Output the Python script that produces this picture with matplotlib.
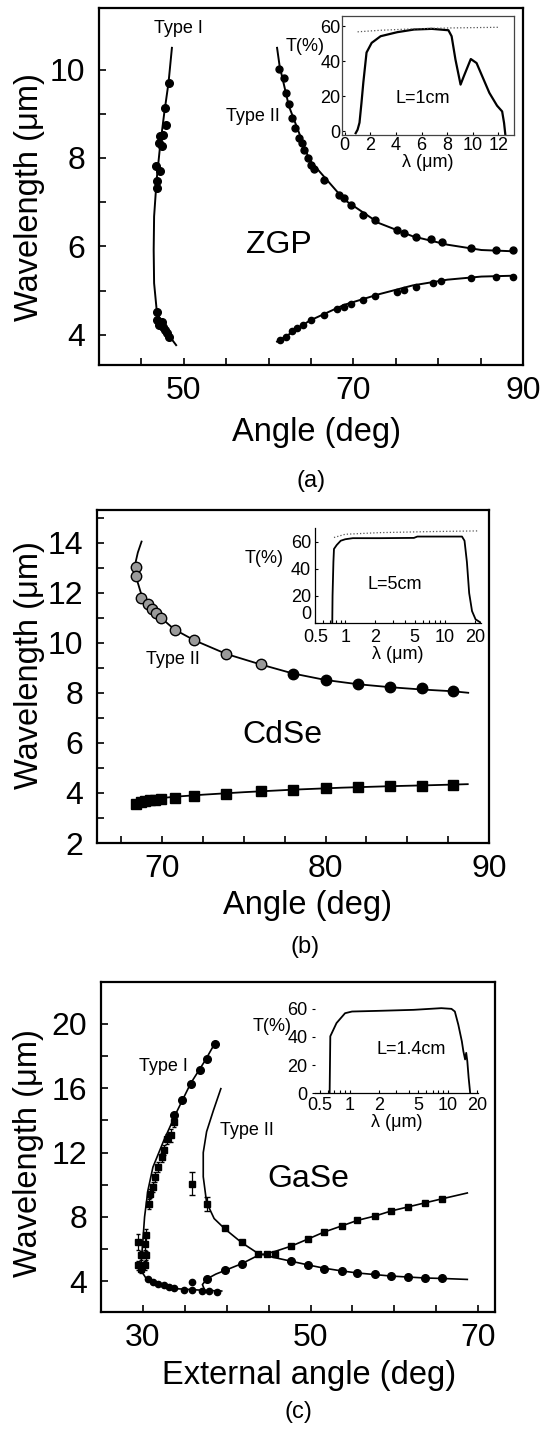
import matplotlib.pyplot as plt
from matplotlib.ticker import FixedLocator, NullFormatter

plt.rcParams['font.family'] = ['Liberation Sans', 'DejaVu Sans']

# ---------------- (a) ZGP ----------------
zgp_t1_curve_x = [48.6, 48.2, 47.7, 47.2, 46.8, 46.5, 46.45, 46.5, 46.8, 47.4, 48.2, 49.1]
zgp_t1_curve_y = [10.49, 9.70, 9.02, 8.26, 7.51, 6.68, 5.92, 5.17, 4.57, 4.23, 4.0, 3.77]
zgp_t1_x = [48.2, 47.8, 47.9, 47.2, 47.5, 47.4, 47.1, 46.7, 47.2, 46.8, 46.8,
            46.8, 46.9, 47.1, 47.4, 47.6, 47.8, 48.0, 48.2]
zgp_t1_y = [9.70, 9.13, 8.75, 8.49, 8.53, 8.26, 8.34, 7.81, 7.70, 7.47, 7.32,
            4.53, 4.34, 4.23, 4.30, 4.19, 4.11, 4.04, 3.96]

zgp_up_curve_x = [61.0, 61.3, 62.4, 64.8, 68.9, 73.0, 77.0, 81.1, 85.1, 89.0]
zgp_up_curve_y = [10.49, 10.08, 9.17, 7.96, 7.06, 6.53, 6.23, 6.04, 5.92, 5.89]
zgp_up_x = [61.2, 61.8, 62.1, 62.4, 62.8, 63.1, 63.6, 63.9, 64.2, 64.6, 65.0, 65.4, 66.5,
            68.3, 68.9, 69.7, 71.1, 72.5, 75.2, 76.0, 77.4, 79.2, 80.5, 83.9, 86.8, 88.8]
zgp_up_y = [10.02, 9.81, 9.47, 9.21, 8.91, 8.68, 8.45, 8.34, 8.19, 8.0, 7.85, 7.75, 7.51,
            7.17, 7.09, 6.94, 6.72, 6.60, 6.38, 6.30, 6.21, 6.17, 6.09, 5.96, 5.92, 5.92]

zgp_lo_curve_x = [61.0, 62.8, 64.8, 68.9, 73.0, 77.0, 81.1, 85.1, 89.0]
zgp_lo_curve_y = [3.85, 4.06, 4.32, 4.68, 4.92, 5.12, 5.25, 5.32, 5.34]
zgp_lo_x = [61.4, 62.0, 62.8, 63.4, 64.0, 65.0, 66.5, 68.1, 68.9, 69.7, 71.1, 72.5,
            75.2, 76.0, 77.4, 79.4, 80.3, 83.9, 86.8, 88.8]
zgp_lo_y = [3.89, 3.96, 4.08, 4.15, 4.23, 4.34, 4.45, 4.58, 4.64, 4.70, 4.79, 4.87,
            4.98, 5.02, 5.09, 5.17, 5.21, 5.28, 5.32, 5.31]

# inset (a) transmission
zgp_tr_x = [0.85, 1.0, 1.15, 1.3, 1.45, 1.7, 2.1, 2.8, 4.1, 5.4, 6.8, 8.1, 8.35, 8.65,
            9.05, 9.3, 9.85, 10.3, 11.3, 11.9, 12.3, 12.45, 12.55]
zgp_tr_y = [-1, 1, 5, 16, 28, 45, 50.5, 54.3, 56.6, 58.1, 58.5, 57.7, 54.3, 41,
            26.7, 31.4, 41.3, 39, 22, 14.7, 11.4, 4.8, -1.9]
zgp_ref_x = [1.0, 2.8, 5.4, 8.1, 12.1]
zgp_ref_y = [56.8, 57.7, 58.5, 59.0, 59.4]

# ---------------- (b) CdSe ----------------
cdse_up_curve_x = [68.73, 68.5, 68.36, 68.35, 68.45, 68.73, 69.15, 70.0, 70.74, 71.95,
                   73.92, 76.03, 78.0, 80.0, 82.0, 84.0, 85.9, 87.8, 88.73]
cdse_up_curve_y = [14.04, 13.6, 13.2, 12.9, 12.5, 11.9, 11.5, 10.95, 10.53, 10.1,
                   9.55, 9.13, 8.77, 8.51, 8.34, 8.22, 8.13, 8.06, 8.0]
cdse_gray_x = [68.4, 68.4, 68.7, 69.1, 69.35, 69.6, 69.9, 70.76, 71.95, 73.92, 76.03]
cdse_gray_y = [13.02, 12.68, 11.8, 11.53, 11.35, 11.2, 10.98, 10.5, 10.1, 9.55, 9.13]
cdse_black_x = [78.0, 80.0, 82.0, 83.97, 85.87, 87.78]
cdse_black_y = [8.77, 8.51, 8.36, 8.25, 8.19, 8.09]
cdse_lo_curve_x = [68.3, 69.0, 70.0, 71.0, 72.5, 75.0, 78.0, 81.0, 84.0, 86.5, 88.7]
cdse_lo_curve_y = [3.68, 3.74, 3.80, 3.86, 3.93, 4.03, 4.13, 4.21, 4.27, 4.31, 4.35]
cdse_sq_x = [68.37, 68.7, 68.94, 69.26, 69.58, 69.9, 70.78, 71.95, 73.92, 76.03,
             78.0, 80.0, 82.0, 83.97, 85.87, 87.78]
cdse_sq_y = [3.57, 3.62, 3.68, 3.71, 3.73, 3.77, 3.81, 3.89, 3.97, 4.07,
             4.13, 4.21, 4.24, 4.28, 4.28, 4.33]

cdse_tr_x = [0.74, 0.745, 0.76, 0.77, 0.82, 0.9, 1.0, 1.19, 2.2, 4.9, 5.3, 10, 14.9,
             15.8, 16.7, 17.6, 18.8, 20.4, 22.9]
cdse_tr_y = [-0.5, 20, 45, 54.6, 57.5, 60.7, 61.8, 62.6, 62.6, 62.8, 63.8, 63.8, 63.8,
             60.7, 44.9, 21.8, 8.5, 2.4, 0]
cdse_ref_x = [0.77, 1.0, 2.2, 7.3, 22]
cdse_ref_y = [63.1, 65.5, 66.7, 67.5, 68]

# ---------------- (c) GaSe ----------------
gase_t1_curve_x = [38.6, 37.4, 35.7, 34.1, 32.5, 31.2, 30.6, 30.2, 30.0, 29.8, 29.9,
                   30.4, 32.0, 34.1, 37.4, 39.4]
gase_t1_curve_y = [18.8, 17.7, 16.3, 14.6, 12.76, 11.1, 9.65, 8.0, 6.55, 5.2, 4.58,
                   4.17, 3.75, 3.54, 3.44, 3.4]
gase_t1_circ_x = [38.6, 37.6, 36.8, 35.7, 34.7, 33.7]
gase_t1_circ_y = [18.76, 17.83, 17.15, 16.24, 15.24, 14.31]
gase_t1_sq_x = [33.7, 33.3, 32.9, 32.5, 32.3, 31.8, 31.4, 31.2, 30.8, 30.7,
                30.4, 29.4, 30.2, 29.8, 30.4, 29.4, 30.2, 29.8]
gase_t1_sq_y = [13.9, 13.07, 12.86, 12.14, 11.7, 11.1, 10.48, 9.86, 9.45, 8.82,
                6.86, 6.44, 6.34, 5.61, 5.61, 4.99, 4.99, 4.79]
gase_t1_sq_err = [0.3, 0.4, 0.3, 0.3, 0.3, 0.3, 0.3, 0.3, 0.3, 0.3,
                  0.4, 0.5, 0.4, 0.3, 0.3, 0.3, 0.3, 0.3]
gase_t1_lo_x = [30.6, 31.2, 31.8, 32.5, 33.1, 33.7, 34.9, 35.9, 37.0, 37.9, 38.8, 35.8]
gase_t1_lo_y = [4.17, 3.96, 3.86, 3.75, 3.65, 3.6, 3.44, 3.44, 3.4, 3.4, 3.34, 3.96]

gase_t2a_curve_x = [39.3, 38.4, 37.6, 37.2, 37.2, 37.6, 38.5, 39.8, 41.8, 43.7, 45.5,
                    47.7, 49.7, 51.6, 53.7, 55.6, 57.7, 59.6, 61.6, 63.6, 65.7, 68.7]
gase_t2a_curve_y = [15.97, 14.6, 13.3, 12.0, 10.5, 8.9, 7.9, 7.25, 6.4, 5.75, 5.5,
                    5.25, 5.02, 4.82, 4.65, 4.52, 4.42, 4.33, 4.27, 4.21, 4.18, 4.12]
gase_t2b_curve_x = [37.3, 37.1, 37.4, 37.7, 38.7, 39.8, 41.8, 43.7, 45.7, 47.7, 49.7,
                    51.6, 53.7, 55.6, 57.7, 59.6, 61.6, 63.6, 65.7, 68.7]
gase_t2b_curve_y = [3.55, 3.8, 4.0, 4.17, 4.45, 4.68, 5.1, 5.6, 5.85, 6.19, 6.63,
                    7.06, 7.44, 7.79, 8.06, 8.37, 8.62, 8.87, 9.13, 9.49]
gase_t2_sq_x = [35.8, 37.6, 39.8, 41.8, 43.7, 44.8, 45.7, 47.7, 49.7, 51.6, 53.7,
                55.6, 57.7, 59.6, 61.6, 63.6, 65.7]
gase_t2_sq_y = [10.07, 8.82, 7.33, 6.44, 5.72, 5.68, 5.72, 6.19, 6.63, 7.06, 7.44,
                7.79, 8.06, 8.37, 8.62, 8.87, 9.13]
gase_t2_sq_err = [0.72, 0.45, 0, 0, 0, 0, 0, 0, 0, 0, 0, 0, 0, 0, 0, 0, 0]
gase_t2_circ_x = [37.7, 39.8, 41.8, 47.7, 49.7, 51.6, 53.7, 55.6, 57.7, 59.6, 61.6,
                  63.6, 65.7]
gase_t2_circ_y = [4.17, 4.68, 5.1, 5.26, 5.04, 4.79, 4.64, 4.52, 4.43, 4.31, 4.27,
                  4.21, 4.21]

gase_tr_x = [0.627, 0.637, 0.737, 0.90, 1.06, 2.01, 4.5, 8.6, 10.9, 11.8, 12.8, 13.9,
             14.4, 15.0, 15.4, 15.8, 16.3, 16.9]
gase_tr_y = [0, 40.5, 49.9, 56.9, 58.1, 58.6, 59.3, 60.5, 60, 58.1, 48.7, 36.9,
             29.9, 24, 28.7, 22.8, 11, 0]

log_ticks = [0.5, 1, 2, 5, 10, 20]
log_labels = ['0.5', '1', '2', '5', '10', '20']

fig = plt.figure(figsize=(5.4, 14.31), dpi=100)

TICK_FS = 23
LABEL_FS = 23.5
NAME_FS = 23
SMALL_FS = 13


def style_main(ax, xmaj, xmin, ymaj, ymin):
    ax.xaxis.set_major_locator(FixedLocator(xmaj))
    ax.xaxis.set_minor_locator(FixedLocator(xmin))
    ax.yaxis.set_major_locator(FixedLocator(ymaj))
    ax.yaxis.set_minor_locator(FixedLocator(ymin))
    ax.tick_params(which='both', direction='in', length=5, width=1.2, labelsize=TICK_FS,
                   top=False, right=False)
    ax.tick_params(axis='x', pad=8)
    ax.tick_params(axis='y', pad=10)
    for s in ax.spines.values():
        s.set_linewidth(1.6)


def style_inset(ax):
    ax.tick_params(which='both', direction='in', length=2.5, width=0.8,
                   labelsize=SMALL_FS, pad=1.5)
    ax.set_xlabel('λ (μm)', fontsize=SMALL_FS, labelpad=0)
    for s in ax.spines.values():
        s.set_linewidth(0.9)


# ---- panel (a)
axa = fig.add_axes([0.1833, 0.7449, 0.7852, 0.2495])
axa.plot(zgp_t1_curve_x, zgp_t1_curve_y, color='k', lw=1.4)
axa.plot(zgp_up_curve_x, zgp_up_curve_y, color='k', lw=1.4)
axa.plot(zgp_lo_curve_x, zgp_lo_curve_y, color='k', lw=1.4)
axa.plot(zgp_t1_x, zgp_t1_y, 'o', color='k', ms=5.5)
axa.plot(zgp_up_x, zgp_up_y, 'o', color='k', ms=5)
axa.plot(zgp_lo_x, zgp_lo_y, 'o', color='k', ms=4.5)
axa.set_xlim(40, 90)
axa.set_ylim(3.32, 11.39)
style_main(axa, [50, 70, 90], [45, 55, 60, 65, 75, 80, 85], [4, 6, 8, 10], [5, 7, 9])
axa.text(49.4, 10.92, 'Type I', fontsize=SMALL_FS, ha='center', va='center')
axa.text(58.1, 8.94, 'Type II', fontsize=SMALL_FS, ha='center', va='center')
axa.text(61.2, 6.04, 'ZGP', fontsize=NAME_FS, ha='center', va='center')
axa.set_xlabel('Angle (deg)', fontsize=LABEL_FS)
axa.xaxis.set_label_coords(0.514, -0.19)
axa.xaxis.label.set_va('center')
axa.set_ylabel('Wavelength (μm)', fontsize=LABEL_FS)
axa.yaxis.set_label_coords(-0.165, 0.47)
axa.yaxis.label.set_va('center')

ina = axa.inset_axes([0.574, 0.645, 0.404, 0.332])
ina.plot(zgp_tr_x, zgp_tr_y, color='k', lw=1.6)
ina.plot(zgp_ref_x, zgp_ref_y, ':', color='#555555', lw=0.9)
ina.set_xlim(-0.19, 13.2)
ina.set_ylim(-1.9, 65.7)
ina.set_xticks([0, 2, 4, 6, 8, 10, 12])
ina.set_yticks([0, 20, 40, 60])
style_inset(ina)
for s in ina.spines.values():
    s.set_color('#444444')
ina.text(-0.22, 0.746, 'T(%)', transform=ina.transAxes, fontsize=SMALL_FS,
         ha='center', va='center')
ina.text(0.47, 0.31, 'L=1cm', transform=ina.transAxes, fontsize=SMALL_FS,
         ha='center', va='center')

# ---- panel (b)
axb = fig.add_axes([0.1796, 0.4109, 0.7259, 0.2327])
axb.plot(cdse_up_curve_x, cdse_up_curve_y, color='k', lw=1.3)
axb.plot(cdse_lo_curve_x, cdse_lo_curve_y, color='k', lw=1.3)
axb.plot(cdse_gray_x, cdse_gray_y, 'o', mfc='#9a9a9a', mec='k', mew=1.0, ms=7.5)
axb.plot(cdse_black_x, cdse_black_y, 'o', color='k', ms=7.5)
axb.plot(cdse_sq_x, cdse_sq_y, 's', color='k', ms=6.5)
axb.set_xlim(66, 90)
axb.set_ylim(2, 15.3)
style_main(axb, [70, 80, 90], [67.5, 72.5, 75, 77.5, 82.5, 85, 87.5],
           [2, 4, 6, 8, 10, 12, 14], [3, 5, 7, 9, 11, 13, 15])
axb.text(70.63, 9.31, 'Type II', fontsize=SMALL_FS, ha='center', va='center')
axb.text(77.34, 6.31, 'CdSe', fontsize=NAME_FS, ha='center', va='center')
axb.set_xlabel('Angle (deg)', fontsize=LABEL_FS)
axb.xaxis.set_label_coords(0.536, -0.188)
axb.xaxis.label.set_va('center')
axb.set_ylabel('Wavelength (μm)', fontsize=LABEL_FS)
axb.yaxis.set_label_coords(-0.173, 0.535)
axb.yaxis.label.set_va('center')

inb = axb.inset_axes([0.557, 0.66, 0.422, 0.287])
inb.plot(cdse_tr_x, cdse_tr_y, color='k', lw=1.3)
inb.plot(cdse_ref_x, cdse_ref_y, ':', color='#555555', lw=0.9)
inb.set_xscale('log')
inb.set_xlim(0.52, 23)
inb.set_ylim(-0.5, 70.4)
inb.set_xticks(log_ticks)
inb.set_xticklabels(log_labels)
inb.xaxis.set_minor_formatter(NullFormatter())
inb.set_yticks([0, 20, 40, 60])
style_inset(inb)
inb.tick_params(axis='y', pad=3)
inb.tick_params(axis='x', pad=4)
# the "0" sits just above the axis line, clear of "0.5"
inb.get_yticklabels()[0].set_va('bottom')
inb.spines['top'].set_visible(False)
inb.spines['right'].set_visible(False)
inb.text(-0.31, 0.675, 'T(%)', transform=inb.transAxes, fontsize=SMALL_FS,
         ha='center', va='center')
inb.text(0.479, 0.40, 'L=5cm', transform=inb.transAxes, fontsize=SMALL_FS,
         ha='center', va='center')

# ---- panel (c)
axc = fig.add_axes([0.1870, 0.0832, 0.7296, 0.2306])
axc.plot(gase_t1_curve_x, gase_t1_curve_y, color='k', lw=1.2)
axc.plot(gase_t2a_curve_x, gase_t2a_curve_y, color='k', lw=1.2)
axc.plot(gase_t2b_curve_x, gase_t2b_curve_y, color='k', lw=1.2)
axc.plot(gase_t1_circ_x, gase_t1_circ_y, 'o', color='k', ms=5.5)
axc.errorbar(gase_t1_sq_x, gase_t1_sq_y, yerr=gase_t1_sq_err, fmt='s', color='k',
             ms=5, elinewidth=0.9, capsize=1.5)
axc.plot(gase_t1_lo_x, gase_t1_lo_y, 'o', color='k', ms=4.5)
axc.errorbar(gase_t2_sq_x, gase_t2_sq_y, yerr=gase_t2_sq_err, fmt='s', color='k',
             ms=5, elinewidth=0.9, capsize=2)
axc.plot(gase_t2_circ_x, gase_t2_circ_y, 'o', color='k', ms=5.5)
axc.set_xlim(25, 72)
axc.set_ylim(2.1, 22.6)
style_main(axc, [30, 50, 70], [35, 40, 45, 55, 60, 65], [4, 8, 12, 16, 20], [6, 10, 14, 18])
axc.text(32.4, 17.35, 'Type I', fontsize=SMALL_FS, ha='center', va='center')
axc.text(42.4, 13.38, 'Type II', fontsize=SMALL_FS, ha='center', va='center')
axc.text(49.7, 10.38, 'GaSe', fontsize=NAME_FS, ha='center', va='center')
axc.set_xlabel('External angle (deg)', fontsize=LABEL_FS)
axc.xaxis.set_label_coords(0.528, -0.193)
axc.xaxis.label.set_va('center')
axc.set_ylabel('Wavelength (μm)', fontsize=LABEL_FS)
axc.yaxis.set_label_coords(-0.183, 0.48)
axc.yaxis.label.set_va('center')

inc = axc.inset_axes([0.542, 0.663, 0.416, 0.264])
inc.plot(gase_tr_x, gase_tr_y, color='k', lw=1.3)
inc.set_xscale('log')
inc.set_xlim(0.44, 20.5)
inc.set_ylim(0, 62)
inc.set_xticks(log_ticks)
inc.set_xticklabels(log_labels)
inc.xaxis.set_minor_formatter(NullFormatter())
inc.set_yticks([0, 20, 40, 60])
style_inset(inc)
inc.spines['top'].set_visible(False)
inc.spines['right'].set_visible(False)
inc.spines['left'].set_visible(False)
inc.tick_params(axis='y', direction='out', length=2, pad=3)
inc.tick_params(axis='x', pad=3)
inc.text(-0.26, 0.77, 'T(%)', transform=inc.transAxes, fontsize=SMALL_FS,
         ha='center', va='center')
inc.text(0.588, 0.50, 'L=1.4cm', transform=inc.transAxes, fontsize=SMALL_FS,
         ha='center', va='center')

# panel letters
fig.text(311 / 540, 1 - 481 / 1431, '(a)', fontsize=17, ha='center', va='center')
fig.text(305 / 540, 1 - 947 / 1431, '(b)', fontsize=17, ha='center', va='center')
fig.text(298 / 540, 1 - 1412 / 1431, '(c)', fontsize=17, ha='center', va='center')

fig.savefig('out.png', dpi=100)
